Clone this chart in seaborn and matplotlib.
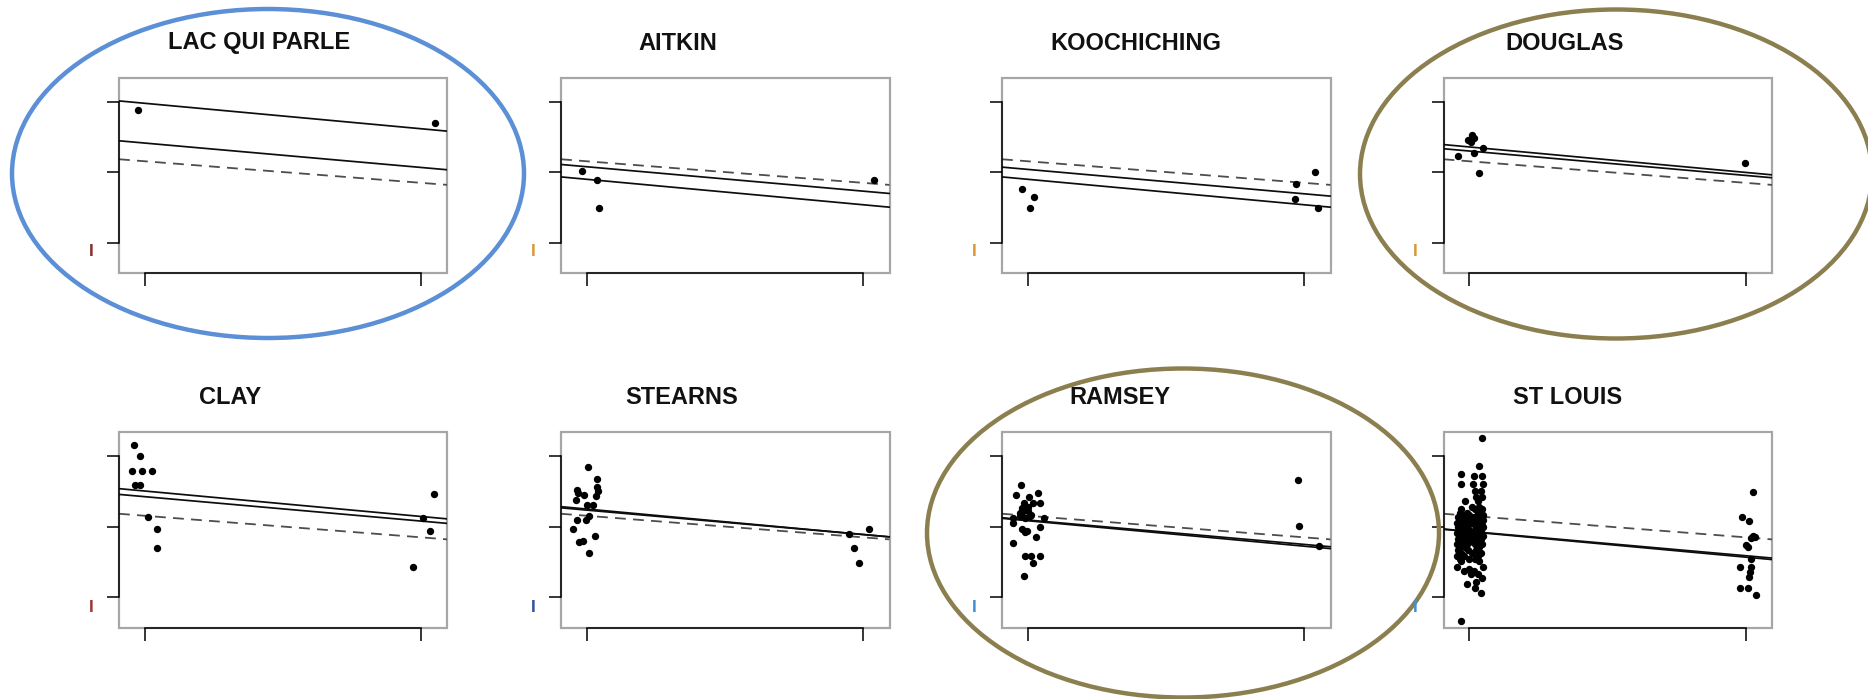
import matplotlib
matplotlib.use('Agg')
import matplotlib.pyplot as plt
from matplotlib.patches import Ellipse
import seaborn as sns
import pandas as pd

W, H = 1868, 699

counties = ['LAC QUI PARLE', 'AITKIN', 'KOOCHICHING', 'DOUGLAS',
            'CLAY', 'STEARNS', 'RAMSEY', 'ST LOUIS']

# floor (0 = basement, 1 = first floor, jittered) and log radon
lqp_x = [-0.025, 1.05]
lqp_y = [2.77, 2.40]

ait_x = [-0.019, 0.035, 0.045, 1.04]
ait_y = [1.04, 0.77, -0.02, 0.77]

koo_x = [-0.02, 0.022, 0.006, 0.97, 0.965, 1.04, 1.05]
koo_y = [0.52, 0.30, -0.02, 0.66, 0.24, 1.01, -0.02]

dou_x = [0.01, -0.006, 0.004, 0.016, -0.04, 0.016, 0.05, 0.036, 0.996]
dou_y = [2.04, 1.92, 1.85, 1.97, 1.47, 1.54, 1.68, 0.98, 1.27]

cla_x = [-0.04, -0.017, -0.048, -0.01, 0.024, -0.036, -0.018, 0.01, 0.045, 0.045,
         0.97, 1.005, 1.03, 1.045]
cla_y = [3.31, 2.99, 2.58, 2.58, 2.58, 2.19, 2.19, 1.28, 0.94, 0.39,
         -0.13, 1.25, 0.89, 1.93]

ste_x = [0.005, 0.035, 0.035, 0.041, 0.033, -0.035, -0.031, -0.01, -0.04, -0.001,
         0.023, 0.008, -0.004, -0.035, -0.05, 0.029, -0.029, -0.013, 0.007,
         0.95, 1.02, 0.965, 0.983]
ste_y = [2.69, 2.34, 2.13, 2.01, 1.87, 2.03, 1.96, 1.89, 1.75, 1.61,
         1.61, 1.29, 1.20, 1.20, 0.94, 0.74, 0.57, 0.61, 0.25,
         0.80, 0.94, 0.39, -0.02]

ram_x = [-0.025, -0.045, 0.038, 0.004, -0.013, 0.02, 0.045, -0.023, 0.0, -0.03,
         -0.02, 0.0, 0.012, -0.053, -0.03, -0.01, 0.008, -0.053, 0.057, -0.023,
         -0.004, 0.045, -0.01, 0.03, -0.053, -0.01, 0.012, 0.045, 0.017, -0.013,
         0.977, 0.98, 1.055]
ram_y = [2.18, 1.91, 1.96, 1.85, 1.68, 1.68, 1.68, 1.53, 1.56, 1.39,
         1.41, 1.44, 1.34, 1.25, 1.29, 1.25, 1.29, 1.10, 1.25, 0.93,
         0.87, 0.99, 0.84, 0.72, 0.53, 0.17, 0.17, 0.17, -0.02, -0.40,
         2.32, 1.03, 0.46]

stl_x = [0.045, 0.035, -0.03, 0.015, 0.045, -0.03, 0.013, 0.05, 0.02, 0.04,
         0.045, 0.025, -0.015, 0.03, 0.035, 0.01, -0.03, 0.02, 0.045,
         -0.035, -0.01, 0.03, -0.025, 0.0, 0.05,
         -0.04, -0.02, 0.015, 0.04, -0.03, 0.0, 0.025, 0.05,
         -0.045, -0.015, 0.01, 0.035, -0.035, -0.005, 0.02, 0.045,
         -0.04, -0.02, 0.03, 0.05, -0.03, 0.0, 0.02, 0.04,
         -0.045, -0.015, 0.01, 0.035, -0.035, -0.005, 0.025, 0.05,
         -0.04, -0.02, 0.015, 0.04, -0.03, 0.0, 0.03,
         -0.045, -0.01, 0.02, 0.045, -0.035, -0.015, 0.035,
         -0.04, -0.005, 0.025, -0.03, 0.01, 0.04,
         -0.045, -0.02, 0.03, -0.035, 0.0, 0.02, -0.03, 0.035,
         -0.045, 0.05, 0.0, 0.015, -0.02, 0.005, 0.03, 0.045, 0.025,
         -0.01, 0.02, 0.04, -0.03,
         1.026, 0.985, 1.012, 1.026, 1.02, 1.032, 1.0, 1.008, 1.02, 0.98,
         1.02, 1.017, 1.012, 0.98, 1.008, 1.036]
stl_y = [3.51, 2.72, 2.49, 2.44, 2.44, 2.20, 2.20, 2.20, 2.01, 2.01,
         1.85, 1.85, 1.72, 1.72, 1.56, 1.56, 1.49, 1.49, 1.49,
         1.40, 1.40, 1.40, 1.34, 1.34, 1.34,
         1.28, 1.28, 1.28, 1.28, 1.20, 1.20, 1.20, 1.20,
         1.12, 1.12, 1.12, 1.12, 1.05, 1.05, 1.05, 1.05,
         0.98, 0.98, 0.98, 0.98, 0.90, 0.90, 0.90, 0.90,
         0.82, 0.82, 0.82, 0.82, 0.74, 0.74, 0.74, 0.74,
         0.66, 0.66, 0.66, 0.66, 0.58, 0.58, 0.58,
         0.50, 0.50, 0.50, 0.50, 0.42, 0.42, 0.42,
         0.34, 0.34, 0.34, 0.26, 0.26, 0.26,
         0.18, 0.18, 0.18, 0.10, 0.10, 0.10, 0.02, 0.02,
         -0.13, -0.13, -0.20, -0.25, -0.25, -0.35, -0.35, -0.45, -0.55,
         -0.62, -0.72, -0.88, -1.66,
         1.99, 1.27, 1.15, 0.74, 0.68, 0.71, 0.49, 0.42, 0.08, -0.13,
         -0.15, -0.28, -0.42, -0.72, -0.72, -0.94]

# fitted lines: complete pooling (dashed), no pooling and multilevel (solid)
pooled_a, pooled_b = 1.31, -0.61
nopool_a = [2.95, 0.80, 0.80, 1.715, 2.01, 1.50, 1.17, 0.86]
multi_a = [1.825, 1.155, 1.08, 1.60, 1.85, 1.47, 1.19, 0.87]
nopool_b, multi_b = -0.72, -0.69

xs = [lqp_x, ait_x, koo_x, dou_x, cla_x, ste_x, ram_x, stl_x]
ys = [lqp_y, ait_y, koo_y, dou_y, cla_y, ste_y, ram_y, stl_y]
df = pd.concat([pd.DataFrame({'floor': x, 'radon': y, 'county': c})
                for x, y, c in zip(xs, ys, counties)], ignore_index=True)

sns.set_style('white')
plt.rcParams['font.family'] = ['Liberation Sans', 'DejaVu Sans']

fig = plt.figure(figsize=(W / 100, H / 100), dpi=100)

col_left = [119, 561, 1002, 1443.5]
row_top = [77.5, 432]
box_w, box_h = 328.5, 195.5
title_x = [259.5, 677.5, 1136, 1565, 230, 681.7, 1119.7, 1568]
title_y = [43, 398]
mark_col = ['#8b2f2f', '#d9983a', '#d9983a', '#d9983a',
            '#a03535', '#34509e', '#3f8fd6', '#3f8fd6']

for i, county in enumerate(counties):
    r, c = divmod(i, 4)
    left, top = col_left[c], row_top[r]
    ax = fig.add_axes([left / W, 1 - (top + box_h) / H, box_w / W, box_h / H])
    sub = df[df['county'] == county]
    sns.scatterplot(data=sub, x='floor', y='radon', ax=ax, color='black',
                    s=28, marker='o', linewidth=0, legend=False, zorder=3)
    ax.axline((0, pooled_a), slope=pooled_b, color='0.3', lw=1.3,
              dashes=(6, 4), zorder=2)
    ax.axline((0, nopool_a[i]), slope=nopool_b, color='0.05', lw=1.25, zorder=2)
    ax.axline((0, multi_a[i]), slope=multi_b, color='0.05', lw=1.25, zorder=2)

    ax.set_xlim(-0.094, 1.095)
    ax.set_ylim(-1.85, 3.68)
    ax.set_xticks([0, 1])
    ax.set_yticks([-1, 1, 3])
    ax.set_xticklabels([])
    ax.set_yticklabels([])
    ax.set_xlabel('')
    ax.set_ylabel('')
    ax.tick_params(direction='out', length=9, width=1.1, color='black',
                   bottom=True, left=True)
    # gray frame, R-style black axis lines only between the outer ticks
    ax.patch.set_edgecolor('0.65')
    ax.patch.set_linewidth(1.6)
    for side in ['top', 'right']:
        ax.spines[side].set_visible(False)
    for side in ['left', 'bottom']:
        ax.spines[side].set_color('black')
        ax.spines[side].set_linewidth(1.1)
    ax.spines['bottom'].set_bounds(0, 1)
    ax.spines['left'].set_bounds(-1, 3)

    fig.text(title_x[i] / W, 1 - title_y[r] / H, county, ha='center',
             va='center', fontsize=17, fontweight='bold', color='#111111')
    fig.text((left - 28) / W, 1 - (252 + r * 355) / H, 'I', ha='center',
             va='center', fontsize=12.5, fontweight='bold', color=mark_col[i])

# highlight ellipses
for cx, cy, col in [(268, 173.5, '#5b8fd6'), (1616, 174, '#8c7f4f'),
                    (1183, 533, '#8c7f4f')]:
    fig.add_artist(Ellipse((cx / W, 1 - cy / H), 512 / W, 329 / H,
                           transform=fig.transFigure, fill=False,
                           edgecolor=col, lw=3.2))

fig.savefig('out.png', dpi=100)
